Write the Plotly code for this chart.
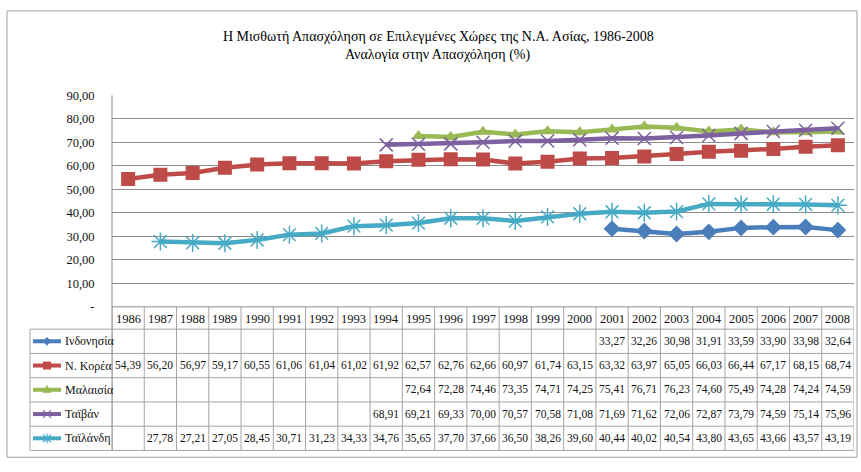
import plotly.graph_objects as go

# ---------------- data ----------------
years = list(range(1986, 2009))
year_labels = [str(y) for y in years]
countries = ["Ινδονησία", "Ν. Κορέα", "Μαλαισία", "Ταϊβάν", "Ταϊλάνδη"]
N = None
indonesia = [N] * 15 + [33.27, 32.26, 30.98, 31.91, 33.59, 33.90, 33.98, 32.64]
korea = [54.39, 56.20, 56.97, 59.17, 60.55, 61.06, 61.04, 61.02, 61.92, 62.57,
         62.76, 62.66, 60.97, 61.74, 63.15, 63.32, 63.97, 65.05, 66.03, 66.44,
         67.17, 68.15, 68.74]
malaysia = [N] * 9 + [72.64, 72.28, 74.46, 73.35, 74.71, 74.25, 75.41, 76.71,
                      76.23, 74.60, 75.49, 74.28, 74.24, 74.59]
taiwan = [N] * 8 + [68.91, 69.21, 69.33, 70.00, 70.57, 70.58, 71.08, 71.69,
                    71.62, 72.06, 72.87, 73.79, 74.59, 75.14, 75.96]
thailand = [N] + [27.78, 27.21, 27.05, 28.45, 30.71, 31.23, 34.33, 34.76, 35.65,
                  37.70, 37.66, 36.50, 38.26, 39.60, 40.44, 40.02, 40.54, 43.80,
                  43.65, 43.66, 43.57, 43.19]
series = [indonesia, korea, malaysia, taiwan, thailand]
y_tick_vals = [0, 10, 20, 30, 40, 50, 60, 70, 80, 90]
y_tick_text = ["-", "10,00", "20,00", "30,00", "40,00", "50,00", "60,00",
               "70,00", "80,00", "90,00"]
title_lines = ["Η Μισθωτή Απασχόληση σε Επιλεγμένες Χώρες της Ν.Α. Ασίας, 1986-2008",
               "Αναλογία στην Απασχόληση (%)"]

# ---------------- styles ----------------
colors = ["#4A7EBB", "#BE4B48", "#98B954", "#7D60A0", "#46AAC5"]
symbols = ["diamond", "square", "triangle-up", "x-thin-open", "asterisk-open"]
sizes = [13, 14, 12, 13, 15]
FONT = "Liberation Serif, Times New Roman, DejaVu Serif, serif"
W, H = 861, 472


def px(x):
    return x / W


def py(y):
    return 1 - y / H


PLOT_L, PLOT_R, PLOT_T, PLOT_B = 112, 854, 91, 309
TABLE_L = 30
ROW_TOP = 332
ROW_H = 25
GRID = "#8C8C8C"
TBL = "#A6A6A6"
TXT = "#111111"

fig = go.Figure()

for name, vals, c, sym, s in zip(countries, series, colors, symbols, sizes):
    open_sym = sym.endswith("open")
    fig.add_trace(go.Scatter(
        x=years, y=vals, name=name, mode="lines+markers",
        line=dict(color=c, width=4.5),
        marker=dict(symbol=sym, size=s, color=c,
                    line=dict(color=c, width=1.5 if open_sym else 0)),
        connectgaps=False, showlegend=False))

shapes = []
annotations = []


def hline(x0, x1, y, color, w=1):
    shapes.append(dict(type="line", xref="paper", yref="paper",
                       x0=px(x0), x1=px(x1), y0=py(y), y1=py(y),
                       line=dict(color=color, width=w)))


def path(points, color, fill=True, w=0):
    d = "M " + " L ".join(f"{px(a):.5f},{py(b):.5f}" for a, b in points)
    if fill:
        d += " Z"
    shapes.append(dict(type="path", xref="paper", yref="paper", path=d,
                       fillcolor=color if fill else None,
                       line=dict(color=color, width=w if w else 0.1)))


# x axis line / header row boundary, table horizontal lines
hline(PLOT_L, PLOT_R, PLOT_B, GRID)
for r in range(6):
    hline(TABLE_L, PLOT_R, ROW_TOP + r * ROW_H, TBL)
table_bottom = ROW_TOP + 5 * ROW_H
# vertical lines between year columns
for i in range(len(years) + 1):
    xv = years[0] - 0.5 + i
    shapes.append(dict(type="line", xref="x", yref="paper",
                       x0=xv, x1=xv, y0=py(PLOT_B), y1=py(table_bottom),
                       line=dict(color=TBL, width=1)))
# plot-left line through table
shapes.append(dict(type="line", xref="paper", yref="paper",
                   x0=px(PLOT_L), x1=px(PLOT_L), y0=py(PLOT_T), y1=py(table_bottom),
                   line=dict(color=GRID, width=1)))
# table left border
shapes.append(dict(type="line", xref="paper", yref="paper",
                   x0=px(TABLE_L), x1=px(TABLE_L), y0=py(ROW_TOP), y1=py(table_bottom),
                   line=dict(color=TBL, width=1)))
# outer chart border
shapes.append(dict(type="rect", xref="paper", yref="paper",
                   x0=px(7), x1=px(857), y0=py(464), y1=py(4),
                   line=dict(color="#A0A0A0", width=1)))

# year header
for y, lab in zip(years, year_labels):
    annotations.append(dict(x=y, y=py((PLOT_B + ROW_TOP) / 2 + 1), xref="x", yref="paper",
                            text=lab, showarrow=False, xanchor="center", yanchor="middle",
                            font=dict(family=FONT, size=12.5, color=TXT)))

# table rows with legend keys
for r, (name, vals, c, sym) in enumerate(zip(countries, series, colors, symbols)):
    cy = ROW_TOP + r * ROW_H + ROW_H / 2
    annotations.append(dict(x=px(63), y=py(cy), xref="paper", yref="paper",
                            text=name, showarrow=False, xanchor="left", yanchor="middle",
                            font=dict(family=FONT, size=12, color=TXT)))
    hline(33, 61, cy, c, 4)
    mx = 47
    if sym == "diamond":
        path([(mx, cy - 4.5), (mx + 4, cy), (mx, cy + 4.5), (mx - 4, cy)], c)
    elif sym == "square":
        path([(mx - 4, cy - 4), (mx + 4, cy - 4), (mx + 4, cy + 4), (mx - 4, cy + 4)], c)
    elif sym == "triangle-up":
        path([(mx, cy - 5), (mx + 4.5, cy + 3), (mx - 4.5, cy + 3)], c)
    elif sym == "x-thin-open":
        path([(mx - 4, cy - 4), (mx + 4, cy + 4)], c, fill=False, w=1.2)
        path([(mx - 4, cy + 4), (mx + 4, cy - 4)], c, fill=False, w=1.2)
    else:
        path([(mx - 4, cy - 4), (mx + 4, cy + 4)], c, fill=False, w=1.2)
        path([(mx - 4, cy + 4), (mx + 4, cy - 4)], c, fill=False, w=1.2)
        path([(mx, cy - 5), (mx, cy + 5)], c, fill=False, w=1.2)
    for y, v in zip(years, vals):
        if v is None:
            continue
        annotations.append(dict(x=y, y=py(cy), xref="x", yref="paper",
                                text=f"{v:.2f}".replace(".", ","), showarrow=False,
                                xanchor="center", yanchor="middle",
                                font=dict(family=FONT, size=11.5, color=TXT)))

# title
for i, t in enumerate(title_lines):
    annotations.append(dict(x=px(438), y=py(30 + i * 19), xref="paper", yref="paper",
                            text=t, showarrow=False, xanchor="center", yanchor="middle",
                            font=dict(family=FONT, size=14, color="#000000")))

fig.update_layout(
    width=W, height=H, margin=dict(l=0, r=0, t=0, b=0),
    paper_bgcolor="white", plot_bgcolor="white",
    xaxis=dict(domain=[px(PLOT_L), px(PLOT_R)], range=[years[0] - 0.5, years[-1] + 0.5],
               showticklabels=False, showgrid=False, zeroline=False, showline=False,
               ticks=""),
    yaxis=dict(domain=[py(PLOT_B), py(PLOT_T)], range=[0, 90],
               tickvals=y_tick_vals, ticktext=y_tick_text, showgrid=True,
               gridcolor=GRID, gridwidth=1, zeroline=False, showline=False,
               ticks="outside", ticklen=14, tickcolor="rgba(0,0,0,0)",
               tickfont=dict(family=FONT, size=12.5, color=TXT)),
    shapes=shapes, annotations=annotations,
)
fig.write_html("out.html", config={"displayModeBar": False},
               post_script="document.body.style.margin='0px';")
